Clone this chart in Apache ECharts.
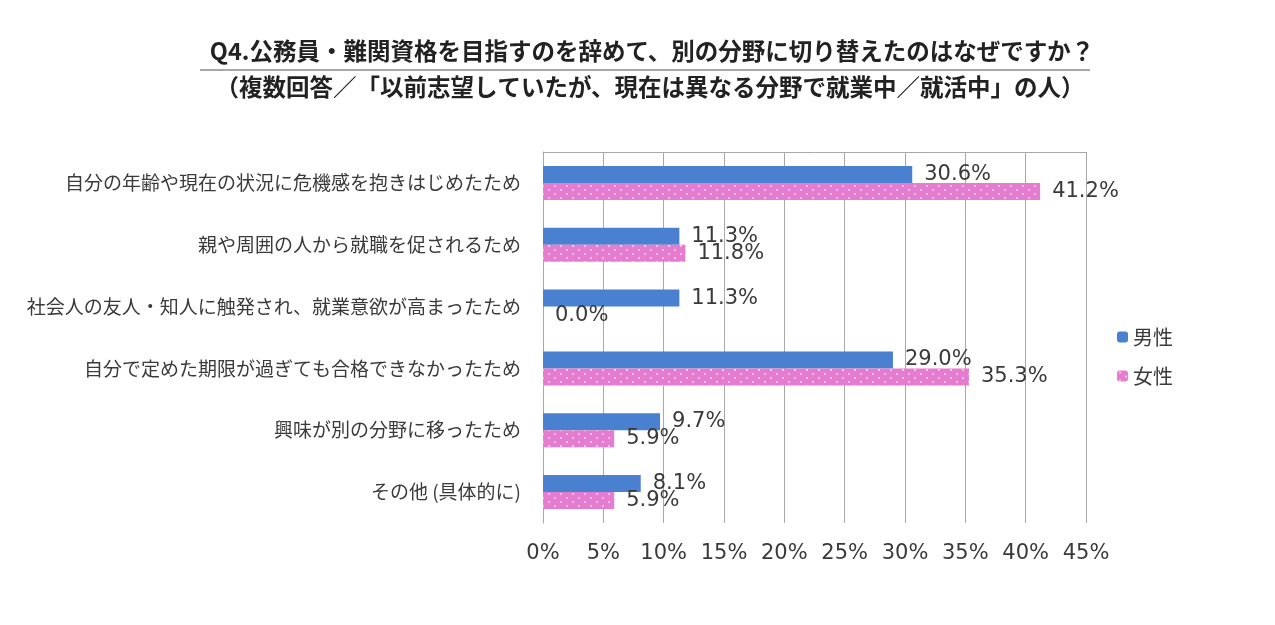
<!DOCTYPE html>
<html><head><meta charset="utf-8">
<script src="https://cdn.jsdelivr.net/npm/echarts@6/dist/echarts.min.js"></script>
<style>html,body{margin:0;padding:0;background:#fff}#c{width:1275px;height:625px}</style>
</head><body><div id="c"></div>
<script>
var categories = [
  '自分の年齢や現在の状況に危機感を抱きはじめたため',
  '親や周囲の人から就職を促されるため',
  '社会人の友人・知人に触発され、就業意欲が高まったため',
  '自分で定めた期限が過ぎても合格できなかったため',
  '興味が別の分野に移ったため',
  'その他 (具体的に)'
];
var maleValues = [30.6, 11.3, 11.3, 29.0, 9.7, 8.1];
var femaleValues = [41.2, 11.8, 0.0, 35.3, 5.9, 5.9];
var seriesNames = ['男性', '女性'];
var xTicks = [0, 5, 10, 15, 20, 25, 30, 35, 40, 45];
var titleText = 'Q4.公務員・難関資格を目指すのを辞めて、別の分野に切り替えたのはなぜですか？';
var subtitleText = '（複数回答／「以前志望していたが、現在は異なる分野で就業中／就活中」の人）';

var tile = document.createElement('canvas');
tile.width = 12; tile.height = 8;
var g = tile.getContext('2d');
g.fillStyle = '#e67ccf'; g.fillRect(0, 0, 12, 8);
g.fillStyle = '#fbd9f1';
g.beginPath(); g.arc(3, 2, 1, 0, Math.PI * 2); g.fill();
g.beginPath(); g.arc(9, 6, 1, 0, Math.PI * 2); g.fill();

var chart = echarts.init(document.getElementById('c'));
var labelStyle = {show: true, position: 'right', distance: 12, fontFamily: 'DejaVu Sans', fontSize: 21, color: '#3a3a3a',
  formatter: function (p) { return p.value.toFixed(1) + '%'; }};
chart.setOption({
  animation: false,
  backgroundColor: '#fff',
  title: [
    {text: titleText, left: 647, top: 34, textAlign: 'center',
     textStyle: {fontFamily: 'Noto Sans CJK JP', fontWeight: 'bold', fontSize: 23.5, color: '#222'}},
    {text: subtitleText, left: 645, top: 70, textAlign: 'center',
     textStyle: {fontFamily: 'Noto Sans CJK JP', fontWeight: 'bold', fontSize: 23.5, color: '#222'}}
  ],
  graphic: [{type: 'line', shape: {x1: 200, y1: 70, x2: 1090, y2: 70}, style: {stroke: '#8a8a8a', lineWidth: 1.5}}],
  legend: {
    orient: 'vertical', left: 1112, top: 322, itemWidth: 11, itemHeight: 11, itemGap: 19,
    textStyle: {fontFamily: 'Noto Sans CJK JP', fontSize: 20, color: '#3a3a3a'},
    data: seriesNames
  },
  grid: {left: 543, right: 189, top: 152, bottom: 102, containLabel: false},
  xAxis: [{
    type: 'value', min: 0, max: 45, interval: 5,
    axisLine: {show: false}, axisTick: {show: false},
    splitLine: {show: true, lineStyle: {color: '#a8a8a8', width: 1}},
    axisLabel: {margin: 20, fontFamily: 'DejaVu Sans', fontSize: 21, color: '#3a3a3a',
      formatter: function (v) { return v + '%'; }}
  }, {
    type: 'value', position: 'top', min: 0, max: 45, interval: 5,
    axisLine: {show: true, lineStyle: {color: '#a8a8a8', width: 1}},
    axisTick: {show: false}, axisLabel: {show: false}, splitLine: {show: false}
  }],
  yAxis: {
    type: 'category', inverse: true, data: categories,
    axisLine: {show: true, lineStyle: {color: '#a8a8a8', width: 1}},
    axisTick: {show: false},
    axisLabel: {margin: 22, fontFamily: 'Noto Sans CJK JP', fontSize: 19, color: '#3a3a3a'}
  },
  series: [
    {name: seriesNames[0], type: 'bar', data: maleValues, barWidth: 17, barGap: '0%',
     itemStyle: {color: '#4a80d0'}, label: labelStyle},
    {name: seriesNames[1], type: 'bar', data: femaleValues, barWidth: 17, barGap: '0%',
     itemStyle: {color: {image: tile, repeat: 'repeat'}}, label: labelStyle}
  ]
});
</script></body></html>
